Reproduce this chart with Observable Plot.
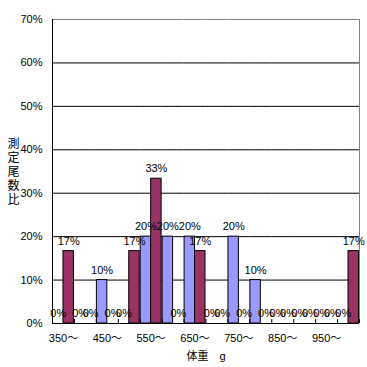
<!DOCTYPE html>
<html>
<head>
<meta charset="utf-8">
<script src="https://cdn.jsdelivr.net/npm/d3@7"></script>
<script src="https://cdn.jsdelivr.net/npm/@observablehq/plot@0.6"></script>
<style>
  html, body { margin: 0; padding: 0; background: #fff; }
</style>
</head>
<body>
<div id="chart"></div>
<script>
const categories = ["350〜","400〜","450〜","500〜","550〜","600〜","650〜","700〜","750〜","800〜","850〜","900〜","950〜","1000〜"];
const seriesNames = ["系列1", "系列2"];
const series1 = [0, 0, 0.10, 0, 0.20, 0.20, 0.20, 0, 0.20, 0.10, 0, 0, 0, 0];
const series2 = [0.1667, 0, 0, 0.1667, 0.3333, 0, 0.1667, 0, 0, 0, 0, 0, 0, 0.1667];
const xTickLabels = ["350〜","450〜","550〜","650〜","750〜","850〜","950〜"];
const yTicks = [0, 0.1, 0.2, 0.3, 0.4, 0.5, 0.6, 0.7];
const xTitle = "体重　g";
const yTitle = "測定尾数比";

const table = categories.flatMap((c, i) => [
  {category: c, series: seriesNames[0], value: series1[i]},
  {category: c, series: seriesNames[1], value: series2[i]}
]);

const W = 367, H = 367, ML = 52, MR = 8, MT = 19, MB = 44;
const halfStep = (W - ML - MR) / categories.length / 2;
const frameH = H - MT - MB;
const pct = d3.format(".0%");
const font = "'Liberation Sans Narrow', 'Arial Narrow', 'Liberation Sans', 'Noto Sans CJK JP', sans-serif";

const chart = Plot.plot({
  width: W, height: H,
  marginLeft: ML, marginRight: MR, marginTop: MT, marginBottom: MB,
  style: {fontFamily: font, fontSize: "11px", background: "#fff", color: "#000"},
  fx: {domain: categories, paddingInner: 0, paddingOuter: 0, round: false},
  x: {domain: seriesNames, paddingInner: 0, paddingOuter: 0.05, round: false, axis: null},
  y: {domain: [0, 0.7]},
  color: {domain: seriesNames, range: ["#9999FF", "#993366"]},
  marks: [
    Plot.ruleY(yTicks.filter(d => d > 0 && d < 0.7), {stroke: "#000", strokeWidth: 1}),
    Plot.ruleY([0.7], {stroke: "#808080"}),
    // right border of the plot area
    Plot.axisFx({anchor: "bottom", ticks: [categories[categories.length - 1]], tickFormat: () => "", tickSize: -frameH, dx: halfStep, label: null, stroke: "#808080"}),
    Plot.barY(table, {fx: "category", x: "series", y: "value", fill: "series", stroke: "#000", strokeWidth: 1}),
    Plot.text(table, {fx: "category", x: "series", y: "value", text: d => pct(d.value), dy: -10, fontSize: 11}),
    Plot.ruleY([0], {stroke: "#000"}),
    // left axis line
    Plot.axisFx({anchor: "bottom", ticks: [categories[0]], tickFormat: () => "", tickSize: -frameH, dx: -halfStep, label: null, stroke: "#000"}),
    Plot.axisY({anchor: "left", ticks: yTicks, tickFormat: ".0%", tickSize: 0, tickPadding: 10, label: null, fontSize: 11}),
    // category boundary ticks (inside)
    Plot.axisFx({anchor: "bottom", ticks: categories, tickFormat: () => "", tickSize: -4, dx: halfStep, label: null, stroke: "#000"}),
    Plot.axisFx({anchor: "bottom", ticks: xTickLabels, tickSize: 0, tickPadding: 11, fontSize: 11, label: xTitle, labelAnchor: "center", labelOffset: 36}),
    Plot.text([yTitle], {fx: () => categories[0], text: d => [...d].join("\n"), frameAnchor: "left", textAnchor: "middle", dx: -39, fontSize: 12, lineHeight: 1.15, fontFamily: "'Noto Sans CJK JP', sans-serif"})
  ]
});
document.getElementById("chart").appendChild(chart);
</script>
</body>
</html>
